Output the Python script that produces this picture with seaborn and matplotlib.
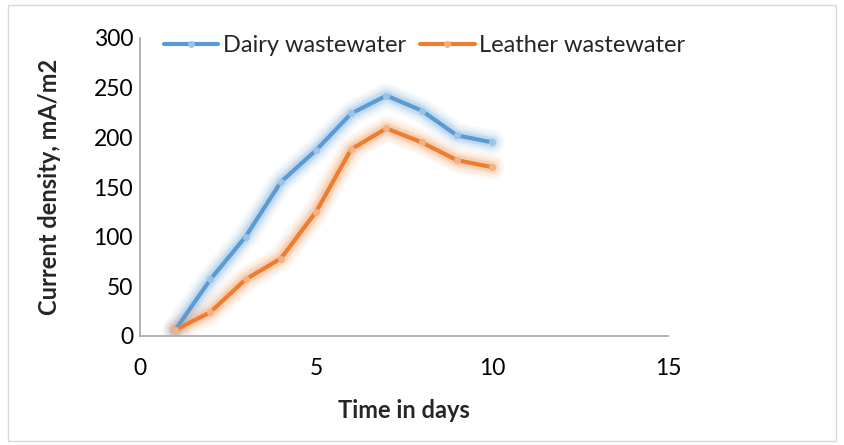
import matplotlib
matplotlib.use("Agg")
import matplotlib.pyplot as plt
import matplotlib.patches as mpatches
import seaborn as sns
import pandas as pd

days = [1, 2, 3, 4, 5, 6, 7, 8, 9, 10]
dairy = [6, 57, 100, 155, 187, 224, 242, 227, 202, 195]
leather = [6, 24, 57, 78, 125, 188, 209, 195, 177, 170]

df = pd.DataFrame({"days": days * 2,
                   "value": dairy + leather,
                   "series": ["Dairy wastewater"] * 10 + ["Leather wastewater"] * 10})
colors = {"Dairy wastewater": "#5B9BD5", "Leather wastewater": "#ED7D31"}
light = {"Dairy wastewater": "#9DC3E6", "Leather wastewater": "#F4B183"}

sns.set_style("white")
plt.rcParams['font.family'] = ['Lato', 'DejaVu Sans']

fig = plt.figure(figsize=(8.45, 4.45), dpi=100)
ax = fig.add_axes([140/845, 109/445, 528/845, 298/445])

# soft glow under each line
for name, grp in df.groupby("series"):
    for w, a in [(18, 0.06), (14, 0.08), (10, 0.12), (7, 0.16)]:
        ax.plot(grp["days"], grp["value"], color=colors[name], lw=w, alpha=a,
                solid_capstyle="round", solid_joinstyle="round", zorder=1)

sns.lineplot(data=df, x="days", y="value", hue="series", palette=colors,
             lw=3, ax=ax, zorder=3, legend=False)
for name, grp in df.groupby("series"):
    ax.plot(grp["days"], grp["value"], ls="none", marker="o", markersize=4,
            mfc=light[name], mec=light[name], zorder=4)

ax.set_xlim(0, 15)
ax.set_ylim(0, 300)
ax.set_xticks([0, 5, 10, 15])
ax.set_yticks(range(0, 301, 50))
ax.tick_params(axis="both", length=0, labelsize=16.5, colors="#000000")
ax.tick_params(axis="x", pad=16)
ax.tick_params(axis="y", pad=5)
for s in ["top", "right"]:
    ax.spines[s].set_visible(False)
for s in ["left", "bottom"]:
    ax.spines[s].set_color("#A6A6A6")
    ax.spines[s].set_linewidth(1.2)
ax.set_xlabel("Time in days", fontsize=17, fontweight="bold", labelpad=14)
ax.set_ylabel("Current density, mA/m2", fontsize=17, fontweight="bold", labelpad=23)

handles = [plt.Line2D([], [], color=colors[k], lw=3, marker="o", markersize=4,
                      mfc=light[k], mec=light[k]) for k in colors]
ax.legend(handles, list(colors), loc="upper left", bbox_to_anchor=(0.005, 1.08),
          ncol=2, frameon=False, fontsize=17, handlelength=2.3, handletextpad=0.2,
          columnspacing=0.6)

fig.patches.append(mpatches.Rectangle((8/845, 4/445), 828/845, 436/445,
                                      transform=fig.transFigure, fill=False,
                                      edgecolor="#D9D9D9", lw=1))
fig.savefig("out.png", dpi=100)
